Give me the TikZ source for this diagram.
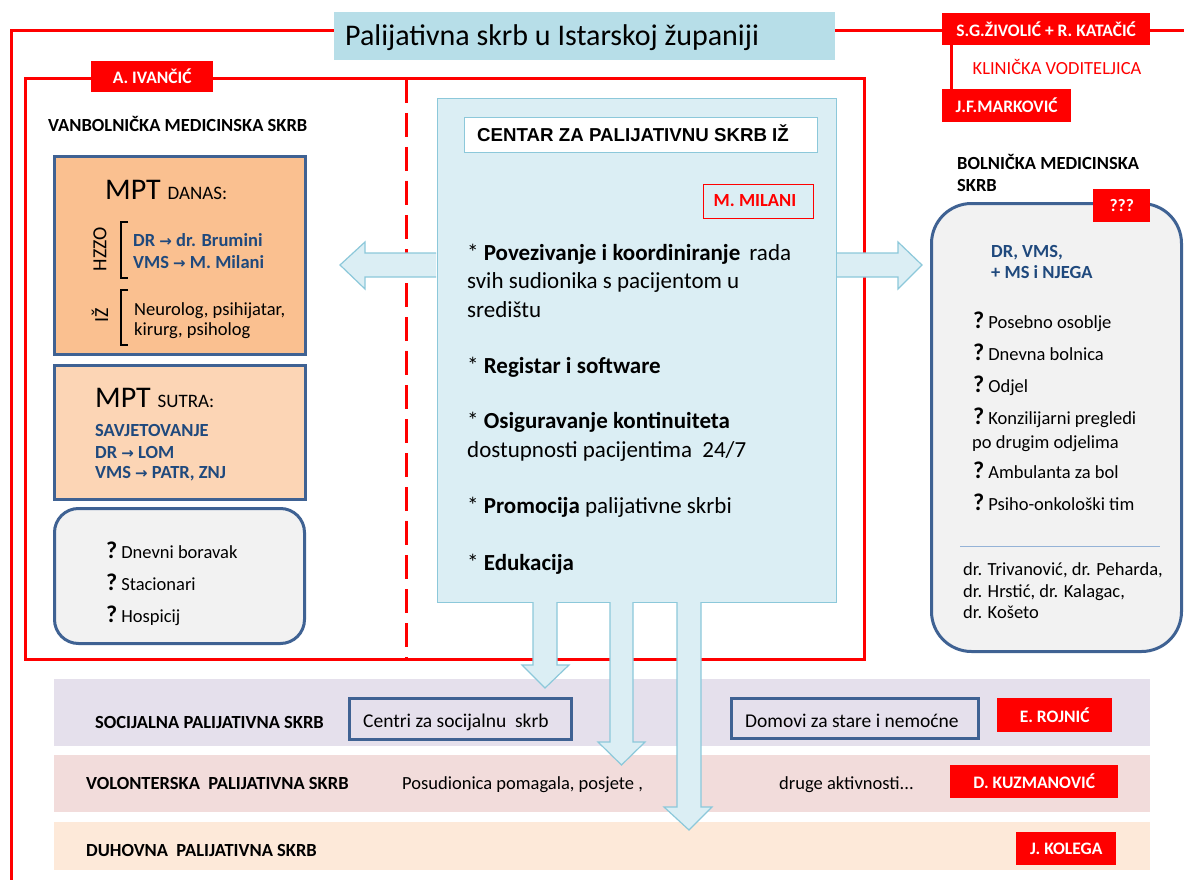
\documentclass[tikz,border=0pt]{standalone}
\usepackage{fontspec}
\setmainfont{Carlito}
\newfontfamily\arialf{Liberation Sans}
\newfontfamily\djv{DejaVu Sans}
\definecolor{titlebg}{HTML}{B7DEE8}
\definecolor{centerbg}{HTML}{DBEEF4}
\definecolor{centerln}{HTML}{8CC8DA}
\definecolor{steel}{HTML}{3F6293}
\definecolor{orangebg}{HTML}{FAC090}
\definecolor{peachbg}{HTML}{FCD5B5}
\definecolor{graybg}{HTML}{F2F2F2}
\definecolor{lavbg}{HTML}{E5E0EC}
\definecolor{pinkbg}{HTML}{F2DCDB}
\definecolor{lightpeach}{HTML}{FDE9D9}
\definecolor{dkblue}{HTML}{1F497D}
\definecolor{sepline}{HTML}{95B3D7}
\newcommand{\fsz}[1]{\fontsize{#1}{#1}\selectfont}
\newcommand{\rarr}{{\djv\bfseries\fontsize{15}{15}\selectfont →}}
\newcommand{\qm}{{\fsz{24}\bfseries ?}\hspace{4pt}}
\tikzset{
 redline/.style={draw=red, line width=3pt},
 redtag/.style={fill=red, text=white, font=\fsz{17.5}\bfseries, inner sep=0pt, anchor=north west},
 tl/.style={inner sep=0pt, anchor=base west},
 tc/.style={inner sep=0pt, anchor=base},
 sbox/.style={draw=steel, line width=3pt, inner sep=0pt, anchor=north west},
 barrow/.style={fill=centerbg, draw=centerln, line width=1.2pt, line join=miter},
 band/.style={inner sep=0pt, anchor=north west, minimum width=1096pt},
 body/.style={font=\fsz{18.5}},
 bodyb/.style={font=\fsz{18.5}\bfseries},
 ctext/.style={tl, font=\fsz{23}},
}
\begin{document}
\begin{tikzpicture}[x=1pt,y=-1pt]
\useasboundingbox (0,0) rectangle (1184,880);
\fill[white] (0,0) rectangle (1184,880);
% ---------- outer frame and header
\draw[redline] (11,880) -- (11,31) -- (1184,31);
\node[anchor=north west, fill=titlebg, minimum width=501pt, minimum height=48pt, inner sep=0pt] (title) at (334,12) {};
\node[tl, font=\fsz{30}] (titletxt) at (345,46) {Palijativna skrb u Istarskoj županiji};
\node[redtag, minimum width=208pt, minimum height=32pt] (sg) at (942,13) {S.G.ŽIVOLIĆ + R. KATAČIĆ};
\node[redtag, minimum width=129pt, minimum height=33pt] (jf) at (942,89) {J.F.MARKOVIĆ};
\draw[redline] ([xshift=9pt]sg.south west) -- ([xshift=9pt]jf.north west);
\node[tc, text=red, font=\fsz{18.5}] (klin) at (1057,75) {KLINIČKA VODITELJICA};
% ---------- inner frame
\draw[redline] (25,79) rectangle (864,659);
\draw[redline, dash pattern=on 24pt off 10pt] (406,79) -- (406,659);
\node[redtag, minimum width=122pt, minimum height=31pt] (ai) at (91,61) {A. IVANČIĆ};
\node[tl, bodyb] (vanb) at (48,132) {VANBOLNIČKA MEDICINSKA SKRB};
% ---------- MPT danas
\node[sbox, fill=orangebg, minimum width=251pt, minimum height=198pt] (danas) at (53,155) {};
\node[tl] (danast) at (105,200) {\fsz{30}MPT \fsz{19}DANAS:};
\node[inner sep=0pt, rotate=90, font=\fsz{20}] (hzzo) at (100,249) {HZZO};
\node[inner sep=0pt, rotate=90, font=\fsz{20}] (iz) at (100,315) {IŽ};
\draw[line width=1.6pt] (128,222) -- (121,222) -- (121,278) -- (128,278);
\draw[line width=1.6pt] (128,290) -- (121,290) -- (121,345) -- (128,345);
\node[tl, bodyb, text=dkblue] (d1) at (133,246) {DR \rarr{} dr. Brumini};
\node[tl, bodyb, text=dkblue] (d2) at (133,268) {VMS \rarr{} M. Milani};
\node[tl, body] (d3) at (134,315) {Neurolog, psihijatar,};
\node[tl, body] (d4) at (134,335) {kirurg, psiholog};
% ---------- MPT sutra
\node[sbox, fill=peachbg, minimum width=251pt, minimum height=134pt] (sutra) at (53,364) {};
\node[tl] (sutrat) at (95,407) {\fsz{30}MPT \fsz{19}SUTRA:};
\node[tl, bodyb, text=dkblue] (s1) at (95,436) {SAVJETOVANJE};
\node[tl, bodyb, text=dkblue] (s2) at (95,458) {DR \rarr{} LOM};
\node[tl, bodyb, text=dkblue] (s3) at (95,478) {VMS \rarr{} PATR, ZNJ};
% ---------- gray box
\node[sbox, fill=graybg, rounded corners=24pt, minimum width=250pt, minimum height=135pt] (grayb) at (53,507) {};
\node[tl, body] (g1) at (106,558) {\qm Dnevni boravak};
\node[tl, body] (g2) at (106,590) {\qm Stacionari};
\node[tl, body] (g3) at (106,622) {\qm Hospicij};
% ---------- side arrows
\draw[barrow] (436,253) -- (365,253) -- (365,242) -- (340,265) -- (365,289) -- (365,277) -- (436,277);
\draw[barrow] (836,253) -- (898,253) -- (898,242) -- (922,265) -- (898,289) -- (898,277) -- (836,277);
% ---------- centre box
\node[anchor=north west, fill=centerbg, draw=centerln, line width=1.3pt, minimum width=399pt, minimum height=504pt, inner sep=0pt] (centre) at (437,98) {};
\node[anchor=north west, fill=white, draw=centerln, line width=1pt, minimum width=353pt, minimum height=35pt, inner sep=0pt] (cbox) at (464,117) {};
\node[tl, font=\arialf\fsz{18.7}\bfseries] (ctitle) at (477,142) {CENTAR ZA PALIJATIVNU SKRB IŽ};
\node[anchor=north west, draw=red, line width=1pt, minimum width=110pt, minimum height=34pt, inner sep=0pt] (mm) at (703,184) {};
\node[tc, text=red, font=\fsz{18.5}\bfseries] (mmt) at (755,206) {M. MILANI};
\node[ctext] (c1) at (467,260) {* \textbf{Povezivanje i koordiniranje}\, rada};
\node[ctext] (c2) at (467,288) {svih sudionika s pacijentom u};
\node[ctext] (c3) at (467,317) {središtu};
\node[ctext] (c4) at (467,373) {* \textbf{Registar i software}};
\node[ctext] (c5) at (467,428) {* \textbf{Osiguravanje kontinuiteta}};
\node[ctext] (c6) at (467,457) {dostupnosti pacijentima\ \ 24/7};
\node[ctext] (c7) at (467,513) {* \textbf{Promocija} palijativne skrbi};
\node[ctext] (c8) at (467,570) {* \textbf{Edukacija}};
% ---------- hospital
\node[tl, bodyb] (bol1) at (957,170) {BOLNIČKA MEDICINSKA};
\node[tl, bodyb] (bol2) at (957,192) {SKRB};
\node[sbox, fill=graybg, rounded corners=40pt, minimum width=250pt, minimum height=448pt] (bol) at (930,202) {};
\node[redtag, font=\fsz{17.5}\bfseries, minimum width=57pt, minimum height=33pt] (qqq) at (1093,189) {???};
\node[tl, bodyb, text=dkblue] (b1) at (991,257) {DR, VMS,};
\node[tl, bodyb, text=dkblue] (b2) at (991,278) {+ MS i NJEGA};
\node[tl, body] (q1) at (973,328) {\qm Posebno osoblje};
\node[tl, body] (q2) at (973,360) {\qm Dnevna bolnica};
\node[tl, body] (q3) at (973,392) {\qm Odjel};
\node[tl, body] (q4) at (973,424) {\qm Konzilijarni pregledi};
\node[tl, body] (q4b) at (972,448) {po drugim odjelima};
\node[tl, body] (q5) at (973,478) {\qm Ambulanta za bol};
\node[tl, body] (q6) at (973,510) {\qm Psiho-onkološki tim};
\draw[sepline, line width=1pt] (960,546) -- (1160,546);
\node[tl, body] (n1) at (963,575) {dr. Trivanović, dr. Peharda,};
\node[tl, body] (n2) at (963,597) {dr. Hrstić, dr. Kalagac,};
\node[tl, body] (n3) at (963,618) {dr. Košeto};
% ---------- bands
\node[band, fill=lavbg, minimum height=67pt] (soc) at (54,679) {};
\node[band, fill=pinkbg, minimum height=57pt] (vol) at (54,755) {};
\node[band, fill=lightpeach, minimum height=48pt] (duh) at (54,822) {};
\node[tl, bodyb] (soct) at (95,728) {SOCIJALNA PALIJATIVNA SKRB};
\node[sbox, minimum width=222pt, minimum height=41pt] (centri) at (348,697) {};
\node[tl, font=\fsz{19.5}] (centrit) at (363,727) {Centri za socijalnu\ \ skrb};
\node[sbox, minimum width=247pt, minimum height=40pt] (domovi) at (730,697) {};
\node[tl, font=\fsz{19.5}] (domovit) at (745,727) {Domovi za stare i nemoćne};
\node[redtag, minimum width=115pt, minimum height=34pt] (roj) at (997,698) {E. ROJNIĆ};
\node[tl, bodyb] (volt) at (86,789) {VOLONTERSKA\ \ PALIJATIVNA SKRB};
\node[tl, body] (posud) at (402,789) {Posudionica pomagala, posjete ,};
\node[tl, body] (druge) at (779,789) {druge aktivnosti...};
\node[redtag, minimum width=168pt, minimum height=33pt] (kuz) at (950,765) {D. KUZMANOVIĆ};
\node[tl, bodyb] (duht) at (86,856) {DUHOVNA\ \ PALIJATIVNA SKRB};
\node[redtag, minimum width=100pt, minimum height=33pt] (kol) at (1016,832) {J. KOLEGA};
% ---------- down arrows
\draw[barrow] (533,602) -- (533,665) -- (522,665) -- (545,688) -- (569,665) -- (557,665) -- (557,602);
\draw[barrow] (610,602) -- (610,742) -- (598,742) -- (621.5,765) -- (645,742) -- (633,742) -- (633,602);
\draw[barrow] (677,602) -- (677,807) -- (664,807) -- (689,830) -- (712,807) -- (701,807) -- (701,602);
\end{tikzpicture}
\end{document}
